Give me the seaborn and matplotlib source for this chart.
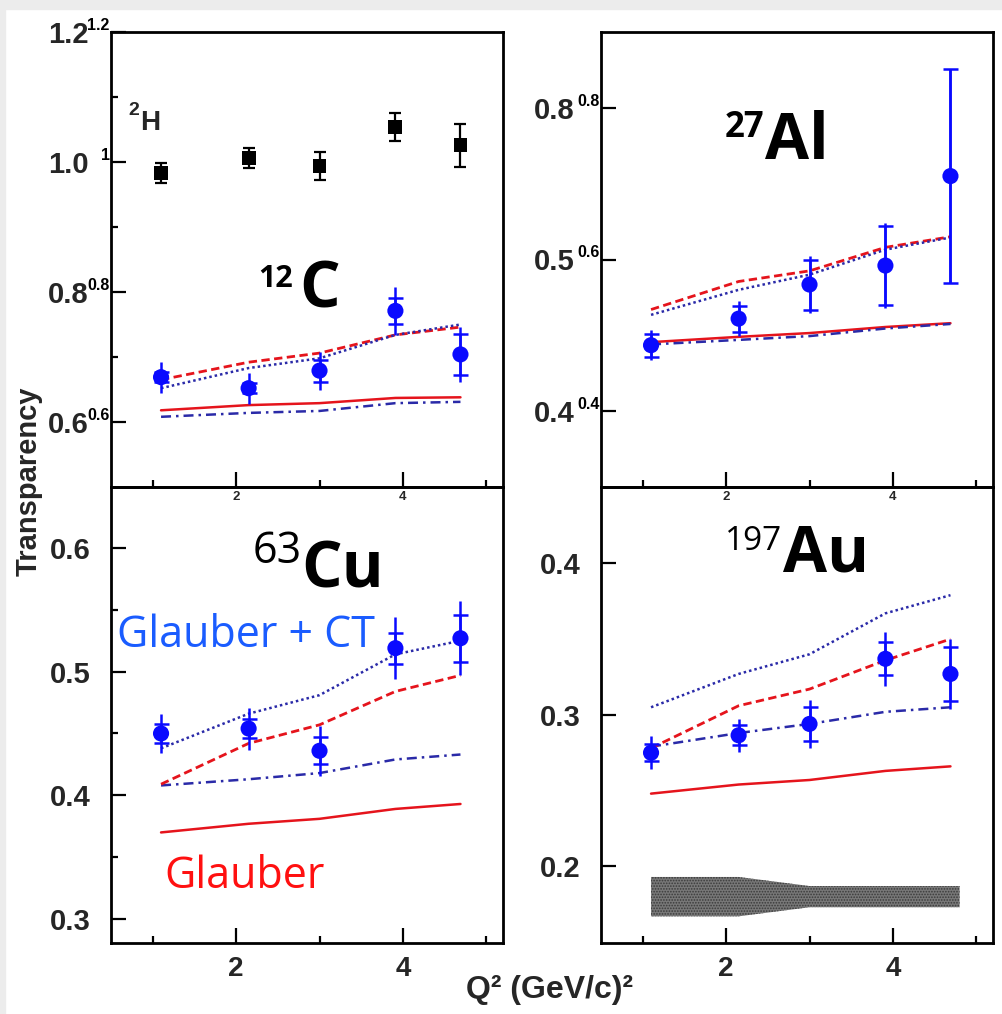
import matplotlib
matplotlib.use("Agg")
import matplotlib.pyplot as plt
from matplotlib.patches import Rectangle
from matplotlib.ticker import FixedLocator
from matplotlib import transforms
import seaborn as sns

sns.set_theme(style="white")
plt.rcParams["font.family"] = ["Liberation Sans", "DejaVu Sans"]
plt.rcParams["hatch.linewidth"] = 0.8

# ---------------- data ----------------
Q2 = [1.10, 2.15, 3.00, 3.91, 4.69]

H2_T = [0.983, 1.006, 0.994, 1.054, 1.026]
H2_err = [0.016, 0.015, 0.021, 0.021, 0.033]

C_T = [0.669, 0.652, 0.679, 0.771, 0.704]
C_stat = [0.008, 0.008, 0.017, 0.020, 0.031]
C_tot = [0.024, 0.024, 0.029, 0.037, 0.042]
C_ct_red = [0.665, 0.692, 0.706, 0.734, 0.746]
C_ct_blue = [0.652, 0.683, 0.698, 0.734, 0.750]
C_gl_red = [0.618, 0.626, 0.629, 0.637, 0.638]
C_gl_blue = [0.608, 0.614, 0.617, 0.629, 0.631]

Al_T = [0.487, 0.522, 0.567, 0.592, 0.710]
Al_stat = [0.015, 0.017, 0.033, 0.052, 0.141]
Al_tot = [0.020, 0.023, 0.037, 0.056, 0.141]
Al_ct_red = [0.534, 0.571, 0.585, 0.616, 0.630]
Al_ct_blue = [0.527, 0.560, 0.580, 0.613, 0.629]
Al_gl_red = [0.491, 0.498, 0.503, 0.511, 0.516]
Al_gl_blue = [0.488, 0.494, 0.499, 0.509, 0.515]

Cu_T = [0.450, 0.454, 0.436, 0.519, 0.527]
Cu_stat = [0.0076, 0.008, 0.011, 0.0125, 0.019]
Cu_tot = [0.016, 0.017, 0.020, 0.025, 0.030]
Cu_ct_blue = [0.438, 0.466, 0.481, 0.514, 0.525]
Cu_ct_red = [0.409, 0.442, 0.457, 0.484, 0.497]
Cu_gl_blue = [0.408, 0.413, 0.418, 0.429, 0.433]
Cu_gl_red = [0.370, 0.377, 0.381, 0.389, 0.393]

Au_T = [0.275, 0.2865, 0.294, 0.337, 0.327]
Au_stat = [0.0056, 0.0067, 0.011, 0.011, 0.018]
Au_tot = [0.011, 0.011, 0.016, 0.018, 0.023]
Au_ct_blue = [0.305, 0.327, 0.340, 0.367, 0.379]
Au_ct_red = [0.278, 0.306, 0.317, 0.336, 0.350]
Au_gl_blue = [0.279, 0.288, 0.294, 0.302, 0.305]
Au_gl_red = [0.248, 0.254, 0.257, 0.263, 0.266]

# systematic band (gold)
band_Q2 = [1.10, 2.15, 3.00, 3.91, 4.80]
band_hi = [0.193, 0.193, 0.187, 0.187, 0.187]
band_lo = [0.167, 0.167, 0.173, 0.173, 0.173]

# axis settings
x_major = [2, 4]
x_minor = [1, 3, 5]
x_labels = ["2", "4"]

# ---------------- figure ----------------
W, H = 1002, 1014
fig = plt.figure(figsize=(W / 100, H / 100), dpi=100)
fig.patch.set_facecolor("white")


def fx(x):
    return x / W


def fy(y):
    return 1 - y / H


# light frame along the top and left edges
fig.patches.append(Rectangle((0, fy(9)), 1, 9 / H, transform=fig.transFigure,
                             color="#ececec", zorder=0))
fig.patches.append(Rectangle((0, 0), 5 / W, 1, transform=fig.transFigure,
                             color="#ececec", zorder=0))


def make_axes(x0, y0, x1, y1):
    ax = fig.add_axes([fx(x0), fy(y1), fx(x1) - fx(x0), fy(y0) - fy(y1)])
    ax.set_facecolor("none")
    for s in ax.spines.values():
        s.set_color("black")
        s.set_linewidth(2.0)
    ax.set_xlim(0.5, 5.2)
    ax.xaxis.set_major_locator(FixedLocator(x_major))
    ax.xaxis.set_minor_locator(FixedLocator(x_minor))
    ax.set_xticklabels(x_labels)
    ax.tick_params(which="both", direction="in", color="black", width=1.6,
                   left=True, bottom=True, top=False, right=False)
    ax.tick_params(which="major", length=11)
    ax.tick_params(which="minor", length=5)
    ax.grid(False)
    return ax


ax_tl = make_axes(111, 32, 503, 487)
ax_tr = make_axes(601, 32, 993, 487)
ax_bl = make_axes(111, 487, 503, 943)
ax_br = make_axes(601, 487, 993, 943)

ax_tl.set_ylim(0.5, 1.2)
ax_tr.set_ylim(0.3, 0.9)
ax_bl.set_ylim(0.2806, 0.6493)
ax_br.set_ylim(0.1494, 0.4504)

ax_tl.yaxis.set_major_locator(FixedLocator([0.6, 0.8, 1.0, 1.2]))
ax_tl.yaxis.set_minor_locator(FixedLocator([0.7, 0.9, 1.1]))
ax_tl.set_yticklabels(["0.6", "0.8", "1.0", "1.2"])
ax_tr.yaxis.set_major_locator(FixedLocator([0.4, 0.6, 0.8]))
ax_tr.set_yticklabels(["0.4", "0.5", "0.8"])
ax_bl.yaxis.set_major_locator(FixedLocator([0.3, 0.4, 0.5, 0.6]))
ax_bl.yaxis.set_minor_locator(FixedLocator([0.35, 0.45, 0.55]))
ax_bl.set_yticklabels(["0.3", "0.4", "0.5", "0.6"])
ax_br.yaxis.set_major_locator(FixedLocator([0.2, 0.3, 0.4]))
ax_br.set_yticklabels(["0.2", "0.3", "0.4"])

for ax, ypad in [(ax_tl, 16), (ax_tr, 19), (ax_bl, 15), (ax_br, 15)]:
    ax.tick_params(axis="y", which="major", labelsize=21, pad=ypad)
    for t in ax.get_yticklabels():
        t.set_fontweight("bold")
for ax in (ax_tl, ax_tr):
    ax.tick_params(axis="x", which="major", labelsize=9.5, pad=3)
    for t in ax.get_xticklabels():
        t.set_fontweight("bold")
for ax in (ax_bl, ax_br):
    ax.tick_params(axis="x", which="major", labelsize=20, pad=9)
    for t in ax.get_xticklabels():
        t.set_fontweight("bold")

# small secondary tick numbers next to the left spine of the top panels
for ax, vals, labs in [(ax_tl, [0.6, 0.8, 1.0, 1.2], ["0.6", "0.8", "1", "1.2"]),
                       (ax_tr, [0.4, 0.6, 0.8], ["0.4", "0.6", "0.8"])]:
    tr = transforms.blended_transform_factory(ax.transAxes, ax.transData)
    off = transforms.offset_copy(tr, fig=fig, x=-1, y=1.5, units="points")
    for v, lab in zip(vals, labs):
        ax.text(0, v, lab, transform=off, ha="right", va="baseline",
                fontsize=11.5, fontweight="bold", color="black")

RED = "#e5141c"
NAVY = "#2a2aa8"
BLUE = "#0a0aff"


def draw_models(ax, ct_red, ct_blue, gl_red, gl_blue):
    sns.lineplot(x=Q2, y=gl_red, ax=ax, color=RED, lw=1.8, linestyle="-",
                 zorder=2)
    sns.lineplot(x=Q2, y=gl_blue, ax=ax, color=NAVY, lw=1.8,
                 linestyle=(0, (4, 2, 1, 2)), zorder=2)
    sns.lineplot(x=Q2, y=ct_red, ax=ax, color=RED, lw=2.0,
                 linestyle=(0, (3, 1.6)), zorder=2)
    sns.lineplot(x=Q2, y=ct_blue, ax=ax, color=NAVY, lw=1.8,
                 linestyle=(0, (1, 1.2)), zorder=2)


def draw_points(ax, T, stat, tot):
    ax.errorbar(Q2, T, yerr=tot, fmt="none", ecolor=BLUE, elinewidth=1.8,
                capsize=0, zorder=3)
    ax.errorbar(Q2, T, yerr=stat, fmt="none", ecolor=BLUE, elinewidth=1.8,
                capsize=5.4, capthick=1.8, zorder=3)
    sns.scatterplot(x=Q2, y=T, ax=ax, color=BLUE, s=135, edgecolor="none",
                    marker="o", zorder=4, legend=False)


# deuterium
ax_tl.errorbar(Q2, H2_T, yerr=H2_err, fmt="none", ecolor="black",
               elinewidth=1.6, capsize=4.5, capthick=1.6, zorder=3)
sns.scatterplot(x=Q2, y=H2_T, ax=ax_tl, color="black", marker="s", s=100,
                edgecolor="none", zorder=4, legend=False)

draw_models(ax_tl, C_ct_red, C_ct_blue, C_gl_red, C_gl_blue)
draw_points(ax_tl, C_T, C_stat, C_tot)
draw_models(ax_tr, Al_ct_red, Al_ct_blue, Al_gl_red, Al_gl_blue)
draw_points(ax_tr, Al_T, Al_stat, Al_tot)
draw_models(ax_bl, Cu_ct_red, Cu_ct_blue, Cu_gl_red, Cu_gl_blue)
draw_points(ax_bl, Cu_T, Cu_stat, Cu_tot)
draw_models(ax_br, Au_ct_red, Au_ct_blue, Au_gl_red, Au_gl_blue)
draw_points(ax_br, Au_T, Au_stat, Au_tot)

ax_br.fill_between(band_Q2, band_lo, band_hi, facecolor="#787878",
                   edgecolor="#3a3a3a", hatch="......", linewidth=0,
                   zorder=2)

for ax in (ax_tl, ax_tr, ax_bl, ax_br):
    ax.set_xlabel("")
    ax.set_ylabel("")

# ---------------- nucleus labels ----------------
ISO = "Open Sans"


def nucleus(sup, sym, x_sup, y_sup, x_sym, y_sym, sup_size, sup_weight):
    fig.text(fx(x_sup), fy(y_sup), sup, ha="right", va="baseline",
             fontsize=sup_size, fontweight=sup_weight, family=ISO,
             color="black")
    fig.text(fx(x_sym), fy(y_sym), sym, ha="left", va="baseline",
             fontsize=46, fontweight="bold", family=ISO, color="black")


nucleus("12", "C", 293, 287, 299, 308, 22, "bold")
nucleus("27", "Al", 764, 137, 765, 159, 25, "bold")
nucleus("63", "Cu", 302, 563, 301, 587, 31, "normal")
nucleus("197", "Au", 782, 550, 783, 572, 24, "normal")

fig.text(fx(139), fy(115), "2", ha="right", va="baseline", fontsize=14,
         fontweight="bold")
fig.text(fx(140), fy(130), "H", ha="left", va="baseline", fontsize=20,
         fontweight="bold")

fig.text(fx(117), fy(647), "Glauber + CT", ha="left", va="baseline",
         fontsize=31, family=ISO, color="#1a5cff")
fig.text(fx(164), fy(888), "Glauber", ha="left", va="baseline",
         fontsize=31, family=ISO, color="#ff1010")

# ---------------- axis titles ----------------
fig.text(fx(29), fy(481), "Transparency", rotation=90, ha="center",
         va="center", fontsize=21, fontweight="bold")
fig.text(fx(549), fy(998), "Q² (GeV/c)²", ha="center", va="baseline",
         fontsize=23, fontweight="bold")

fig.savefig("out.png", dpi=100, facecolor="white")
